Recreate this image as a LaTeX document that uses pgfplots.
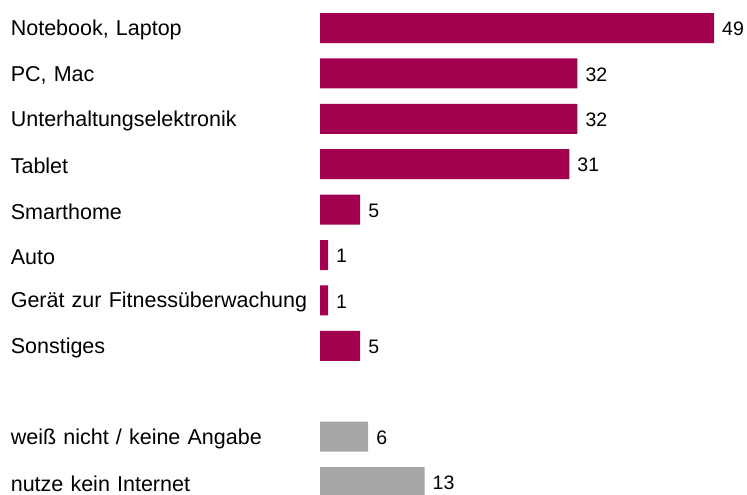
\documentclass[border=0pt]{standalone}
\usepackage{pgfplots}
\pgfplotsset{compat=1.18}
\usepackage{fontspec}
\setmainfont{Liberation Sans}
\definecolor{mag}{HTML}{A3004F}
\definecolor{gr}{HTML}{A6A6A6}
\begin{document}
\begin{tikzpicture}
\path[use as bounding box] (0,0) rectangle (747bp,495bp);
\begin{axis}[
  at={(320bp,0bp)}, anchor=south west,
  scale only axis, width=427bp, height=495bp,
  xmin=0, xmax=53.1, ymin=-0.617, ymax=10.286, y dir=reverse,
  axis line style={draw=none}, tick style={draw=none}, major tick length=0pt,
  xtick=\empty,
  /pgf/number format/assume math mode=true,
  xbar, bar width=30bp, bar shift=0pt,
  ytick={0,1,2,3,4,5,6,7,9,10},
  yticklabels={Notebook\hbox{,} Laptop, {PC, Mac}, Unterhaltungselektronik, Tablet, Smarthome, Auto, Gerät zur Fitnessüberwachung, Sonstiges, weiß nicht / keine Angabe, nutze kein Internet},
  yticklabel style={anchor=east, text width=300bp, align=left, inner sep=0pt, xshift=-9bp, yshift=-2bp, font=\fontsize{21.5bp}{24bp}\selectfont},
  nodes near coords,
  nodes near coords style={anchor=west, inner sep=0pt, xshift=8bp, yshift=-1bp, font=\fontsize{19.5bp}{24bp}\selectfont, black},
  clip=false,
]
\addplot[fill=mag, draw=none] coordinates {(49,0) (32,1) (32,2) (31,3) (5,4) (1,5) (1,6) (5,7)};
\addplot[fill=gr, draw=none] coordinates {(6,9) (13,10)};
\end{axis}
\end{tikzpicture}
\end{document}
